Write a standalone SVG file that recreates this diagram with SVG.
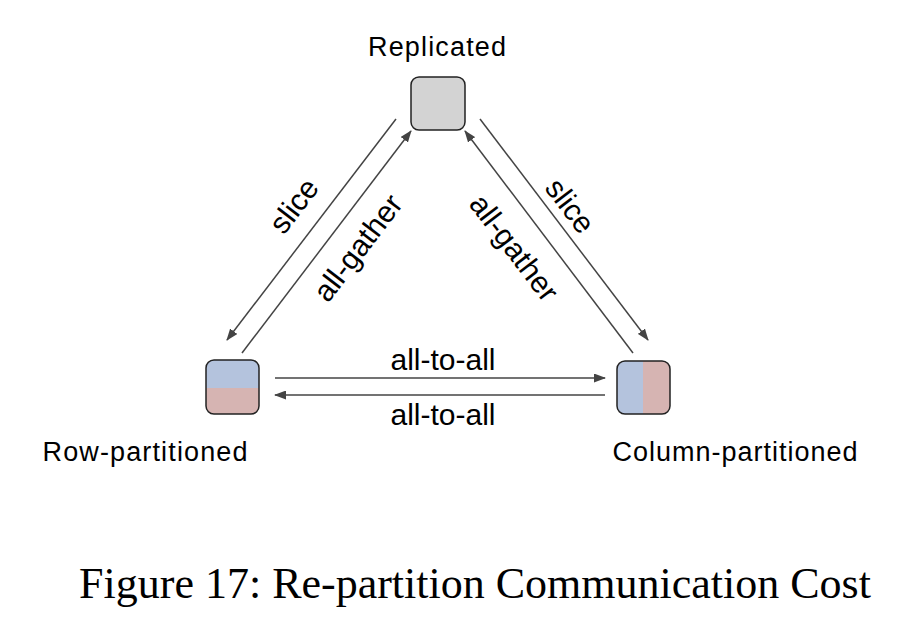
<svg xmlns="http://www.w3.org/2000/svg" width="906" height="632" viewBox="0 0 906 632">
<style>
.t{font-family:"Liberation Sans",Arial,sans-serif;font-size:27px;fill:#000}
.e{font-size:30px}
.c{fill:none;stroke:#444;stroke-width:1.5}
.b{stroke:#222;stroke-width:1.5}
</style>
<defs><marker id="a" markerWidth="12" markerHeight="9" refX="11" refY="4.5" orient="auto" markerUnits="userSpaceOnUse"><path d="M0,0L12,4.5L0,9z" fill="#444"/></marker>
<clipPath id="cr"><rect x="206" y="360" width="53" height="54" rx="8"/></clipPath>
<clipPath id="cc"><rect x="617" y="361" width="53" height="53" rx="8"/></clipPath></defs>
<rect width="906" height="632" fill="#fff"/>
<g id="replicated"><rect x="411" y="77" width="54" height="53" rx="8" fill="#d3d3d3" class="b"/><text class="t" x="437" y="56" text-anchor="middle" textLength="138">Replicated</text></g>
<g id="row"><g clip-path="url(#cr)"><rect x="206" y="360" width="53" height="28" fill="#b4c3dd"/><rect x="206" y="388" width="53" height="26" fill="#d6b4b2"/></g><rect x="206" y="360" width="53" height="54" rx="8" fill="none" class="b"/><text class="t" x="145" y="461" text-anchor="middle" textLength="205">Row-partitioned</text></g>
<g id="column"><g clip-path="url(#cc)"><rect x="617" y="361" width="26" height="53" fill="#b4c3dd"/><rect x="643" y="361" width="27" height="53" fill="#d6b4b2"/></g><rect x="617" y="361" width="53" height="53" rx="8" fill="none" class="b"/><text class="t" x="735" y="461" text-anchor="middle" textLength="245">Column-partitioned</text></g>
<g id="connectors">
<line class="c" x1="396" y1="119" x2="227" y2="340" marker-end="url(#a)"/>
<line class="c" x1="242" y1="353" x2="411" y2="131" marker-end="url(#a)"/>
<line class="c" x1="480" y1="119" x2="648" y2="340" marker-end="url(#a)"/>
<line class="c" x1="633" y1="353" x2="465" y2="131" marker-end="url(#a)"/>
<line class="c" x1="275" y1="378" x2="605" y2="378" marker-end="url(#a)"/>
<line class="c" x1="605" y1="395" x2="275" y2="395" marker-end="url(#a)"/>
<text class="t e" transform="translate(302,212) rotate(-52.6)" text-anchor="middle">slice</text>
<text class="t e" transform="translate(366,254) rotate(-52.6)" text-anchor="middle">all-gather</text>
<text class="t e" transform="translate(562,212) rotate(52.6)" text-anchor="middle">slice</text>
<text class="t e" transform="translate(506,254) rotate(52.6)" text-anchor="middle">all-gather</text>
<text class="t e" x="443" y="370" text-anchor="middle">all-to-all</text>
<text class="t e" x="443" y="425" text-anchor="middle">all-to-all</text>
</g>
<text x="475" y="598" text-anchor="middle" font-family="'Liberation Serif','Times New Roman',serif" font-size="44">Figure 17: Re-partition Communication Cost</text>
</svg>
